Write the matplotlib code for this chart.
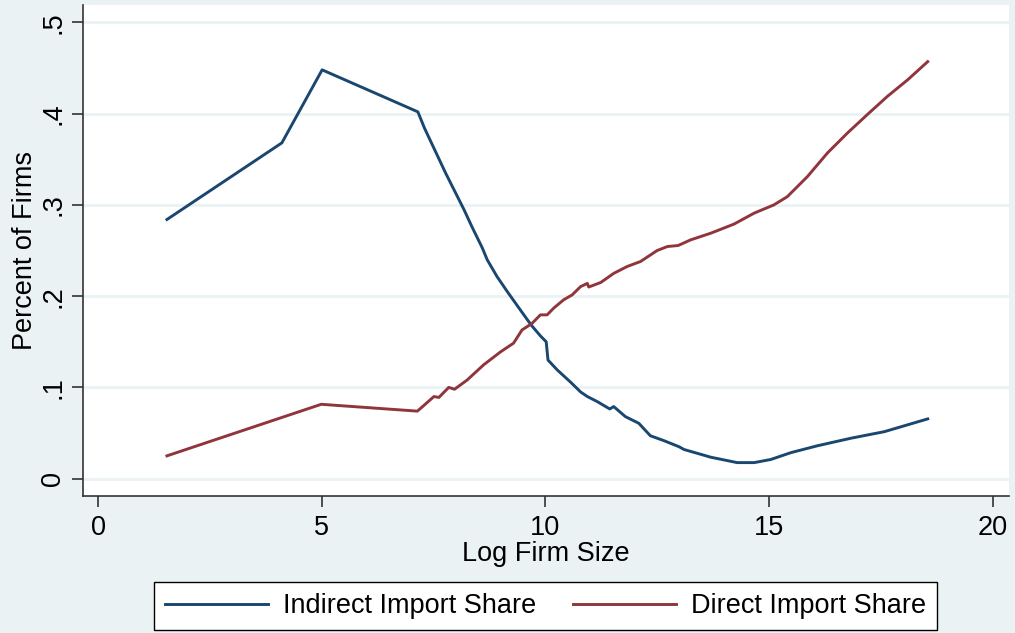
import matplotlib.pyplot as plt

# Indirect import share (blue line)
indirect_x = [1.54, 4.11, 5.01, 7.15, 7.30, 7.77, 8.18, 8.36, 8.59, 8.70, 8.92, 9.15,
              9.44, 9.69, 9.89, 10.02, 10.06, 10.27, 10.56, 10.79, 10.94, 11.16,
              11.44, 11.53, 11.79, 12.09, 12.35, 12.65, 12.99, 13.10, 13.70, 14.29,
              14.67, 15.04, 15.49, 16.08, 16.83, 17.58, 18.55]
indirect_y = [0.284, 0.368, 0.448, 0.402, 0.384, 0.335, 0.295, 0.276, 0.253, 0.240,
              0.2215, 0.205, 0.185, 0.168, 0.1565, 0.150, 0.130, 0.119, 0.106, 0.095,
              0.090, 0.0845, 0.0764, 0.079, 0.068, 0.0607, 0.047, 0.0417, 0.035,
              0.032, 0.0235, 0.0176, 0.0176, 0.021, 0.0285, 0.036, 0.0443, 0.0515,
              0.0655]

# Direct import share (red line)
direct_x = [1.54, 4.99, 7.14, 7.51, 7.62, 7.84, 7.97, 8.25, 8.62, 9.00, 9.29, 9.48,
            9.70, 9.89, 10.04, 10.19, 10.41, 10.60, 10.79, 10.94, 10.97, 11.24,
            11.53, 11.83, 12.13, 12.50, 12.73, 12.97, 13.25, 13.70, 14.22, 14.67,
            15.11, 15.41, 15.86, 16.31, 16.76, 17.20, 17.65, 18.10, 18.55]
direct_y = [0.025, 0.0815, 0.074, 0.090, 0.089, 0.100, 0.098, 0.108, 0.1247, 0.139,
            0.1485, 0.163, 0.170, 0.1795, 0.1795, 0.187, 0.196, 0.2014, 0.2105,
            0.214, 0.210, 0.215, 0.225, 0.2325, 0.238, 0.250, 0.2544, 0.2555,
            0.2617, 0.269, 0.279, 0.291, 0.300, 0.309, 0.331, 0.357, 0.379, 0.399,
            0.419, 0.437, 0.457]

x_ticks = [0, 5, 10, 15, 20]
y_ticks = [0, 0.1, 0.2, 0.3, 0.4, 0.5]
y_tick_labels = ['0', '.1', '.2', '.3', '.4', '.5']

bg = '#EAF2F3'
fs = 19.5
plt.rcParams['font.family'] = ['Liberation Sans', 'DejaVu Sans']

fig = plt.figure(figsize=(10.15, 6.33), dpi=100, facecolor=bg)
ax = fig.add_axes([0.0818, 0.2157, 0.9124, 0.7763])
ax.set_facecolor('white')

ax.plot(indirect_x, indirect_y, color='#1a476f', lw=2.1, label='Indirect Import Share')
ax.plot(direct_x, direct_y, color='#90353b', lw=2.1, label='Direct Import Share')

ax.set_xlim(-0.336, 20.37)
ax.set_ylim(-0.0195, 0.519)
ax.set_xticks(x_ticks)
ax.set_yticks(y_ticks)
ax.set_yticklabels(y_tick_labels, rotation=90, va='center')
ax.grid(axis='y', color=bg, lw=2)
ax.set_axisbelow(True)

for s in ['top', 'right']:
    ax.spines[s].set_visible(False)
for s in ['left', 'bottom']:
    ax.spines[s].set_color('#333333')
    ax.spines[s].set_linewidth(1.2)
ax.tick_params(length=8, width=1.2, color='#333333', labelsize=fs, pad=5)
ax.tick_params(axis='y', pad=4)

ax.set_xlabel('Log Firm Size', fontsize=fs, labelpad=0)
ax.set_ylabel('Percent of Firms', fontsize=fs, labelpad=1.5)

fig.legend(loc='upper center', bbox_to_anchor=(0.5374, 0.080), ncol=2, fontsize=fs,
           frameon=True, fancybox=False, edgecolor='black', framealpha=1,
           handlelength=3.8, handletextpad=0.55, columnspacing=1.37,
           borderpad=0.4, borderaxespad=0)

fig.savefig('out.png', dpi=100, facecolor=bg)
